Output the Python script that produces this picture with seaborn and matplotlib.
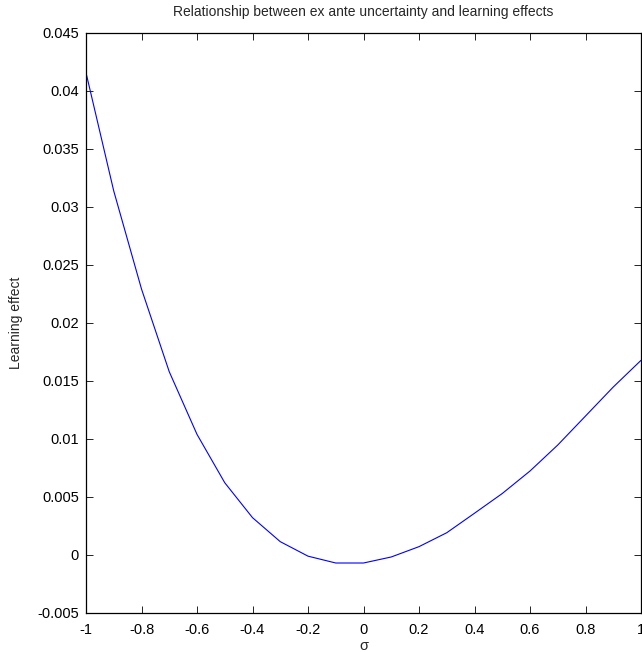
import matplotlib
matplotlib.use("Agg")
import matplotlib.pyplot as plt
import seaborn as sns
import pandas as pd

sigma = [-1.0, -0.9, -0.8, -0.7, -0.6, -0.5, -0.4, -0.3, -0.2, -0.1, 0.0,
         0.1, 0.2, 0.3, 0.4, 0.5, 0.6, 0.7, 0.8, 0.9, 1.0]
learning_effect = [0.04158, 0.03138, 0.02293, 0.01580, 0.01040, 0.00623, 0.00322,
                   0.00115, -0.00010, -0.00069, -0.00069, -0.00017, 0.00072,
                   0.00192, 0.00360, 0.00530, 0.00724, 0.00948, 0.01198,
                   0.01448, 0.01678]
x_ticks = [-1, -0.8, -0.6, -0.4, -0.2, 0, 0.2, 0.4, 0.6, 0.8, 1]
x_tick_labels = ["-1", "-0.8", "-0.6", "-0.4", "-0.2", "0", "0.2", "0.4", "0.6", "0.8", "1"]
y_ticks = [-0.005, 0, 0.005, 0.01, 0.015, 0.02, 0.025, 0.03, 0.035, 0.04, 0.045]
y_tick_labels = ["-0.005", "0", "0.005", "0.01", "0.015", "0.02", "0.025", "0.03", "0.035", "0.04", "0.045"]

sns.set_style("ticks")
plt.rcParams['font.family'] = ['Liberation Sans', 'DejaVu Sans']
plt.rcParams['font.size'] = 10

df = pd.DataFrame({"sigma": sigma, "effect": learning_effect})

fig = plt.figure(figsize=(6.42, 6.52), dpi=100)
ax = fig.add_axes([86 / 642, 1 - 613 / 652, (641 - 86) / 642, (613 - 33) / 652])
sns.lineplot(data=df, x="sigma", y="effect", ax=ax, color=(0, 0, 1), linewidth=0.8)

ax.set_xlim(-1, 1)
ax.set_ylim(-0.005, 0.045)
ax.set_xticks(x_ticks)
ax.set_xticklabels(x_tick_labels)
ax.set_yticks(y_ticks)
ax.set_yticklabels(y_tick_labels)
ax.tick_params(direction="in", top=True, right=True, length=5, width=0.6,
               labelsize=10.5, colors="black", pad=5)
ax.tick_params(axis="x", pad=7)
for s in ax.spines.values():
    s.set_visible(True)
    s.set_linewidth(0.9)
    s.set_color("black")
ax.set_xlabel("σ", fontsize=10.5, labelpad=2)
ax.set_ylabel("Learning effect", fontsize=10, labelpad=10)
ax.set_title("Relationship between ex ante uncertainty and learning effects", fontsize=10, pad=12)

fig.savefig("out.png", dpi=100)
